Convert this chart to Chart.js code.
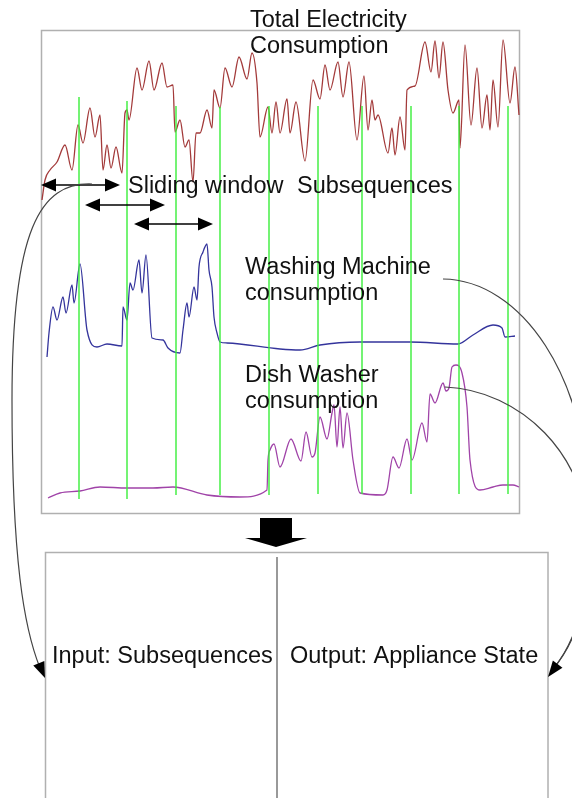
<!DOCTYPE html>
<html lang="en">
<head>
    <meta charset="UTF-8">
    <title>Sliding window subsequences</title>
    <script src="https://cdn.jsdelivr.net/npm/chart.js"></script>
    <style>
        body { margin: 0; background: #fff; }
        #wrap { width: 572px; height: 798px; }
    </style>
</head>
<body>
    <div id="wrap"><canvas id="diagram" width="572" height="798"></canvas></div>

    <script>
        // Traced curves (x = time position, y = drawing height, page units)
        const totalPts = [[42,200],[45,180],[50,170],[57,162],[65,145],[72,170],[78,125],[83,143],[90,108],[95,137],[100,115],[103,170],[107,145],[111,168],[116,147],[122,173],[125,113],[127,110],[129,120],[137,68],[142,90],[149,61],[154,90],[162,63],[167,87],[173,85],[175,132],[180,120],[185,147],[189,140],[193,182],[196,133],[200,133],[207,110],[212,128],[214,90],[220,108],[225,68],[232,87],[239,57],[247,79],[252,53],[257,83],[260,137],[268,107],[272,133],[276,102],[280,133],[287,99],[290,133],[296,102],[305,161],[313,80],[320,99],[325,65],[330,90],[338,62],[343,97],[349,62],[357,140],[364,76],[368,130],[372,100],[375,120],[378,115],[388,153],[392,128],[395,155],[400,117],[405,150],[407,90],[415,86],[425,42],[431,72],[435,41],[439,78],[443,42],[448,90],[453,113],[459,100],[460,148],[465,45],[471,125],[477,68],[482,128],[487,95],[490,130],[493,80],[498,127],[503,40],[510,103],[515,67],[519,115]];
        const washerPts = [[47,357],[49,333],[53,307],[57,320],[63,297],[66,313],[72,285],[74,303],[80,264],[87,330],[97,347],[107,344],[122,346],[123,307],[127,320],[130,283],[133,290],[139,260],[142,293],[146,255],[152,338],[163,340],[168,348],[180,353],[183,330],[187,303],[189,317],[194,287],[197,300],[199,267],[203,252],[207,244],[209,270],[212,287],[214,317],[217,333],[220,342],[227,343],[280,349],[300,350],[320,345],[360,342],[410,342],[458,344],[473,335],[493,325],[502,328],[505,337],[515,336]];
        const dishPts = [[48,498],[60,493],[80,491],[100,487],[127,488],[153,488],[173,487],[207,495],[240,497],[267,490],[268,460],[270,450],[274,444],[280,467],[291,439],[301,461],[306,432],[312,457],[315,453],[320,417],[327,439],[332,413],[334,405],[337,447],[340,407],[343,448],[347,413],[353,460],[360,493],[383,495],[387,490],[393,457],[399,468],[407,439],[412,460],[422,423],[427,442],[430,394],[435,403],[443,383],[446,391],[449,388],[452,367],[456,365],[462,373],[467,407],[470,460],[480,490],[493,487],[503,485],[513,485],[519,487]];

        // Window boundaries
        const windowX = [79, 127, 176, 220, 269, 318, 362, 411, 459, 508];
        const windowTop = [97, 101, 106, 107, 106, 106, 106, 106, 106, 106];
        const windowBottom = [499, 499, 495, 495, 495, 494, 494, 494, 494, 494];

        const FONT = '23.5px "Liberation Sans", Arial, sans-serif';

        function toXY(pts) {
            return pts.map(p => ({ x: p[0], y: p[1] }));
        }

        function curve(label, pts, color) {
            return {
                label: label,
                data: toXY(pts),
                showLine: true,
                borderColor: color,
                borderWidth: 1.3,
                pointRadius: 0,
                cubicInterpolationMode: 'monotone'
            };
        }

        const windowSets = windowX.map((x, i) => ({
            label: 'window ' + i,
            data: [{ x: x, y: windowTop[i] }, { x: x, y: windowBottom[i] }],
            showLine: true,
            borderColor: '#3aee3a',
            borderWidth: 1.4,
            pointRadius: 0
        }));

        // Helper: filled arrow head at (x, y) pointing along angle a
        function head(ctx, x, y, a, len, half) {
            ctx.beginPath();
            ctx.moveTo(x, y);
            ctx.lineTo(x - len * Math.cos(a) + half * Math.sin(a), y - len * Math.sin(a) - half * Math.cos(a));
            ctx.lineTo(x - len * Math.cos(a) - half * Math.sin(a), y - len * Math.sin(a) + half * Math.cos(a));
            ctx.closePath();
            ctx.fill();
        }

        const framePlugin = {
            id: 'frames',
            beforeDatasetsDraw(chart) {
                const ctx = chart.ctx;
                const X = v => chart.scales.x.getPixelForValue(v);
                const Y = v => chart.scales.y.getPixelForValue(v);
                ctx.save();
                ctx.strokeStyle = '#b0b0b0';
                ctx.lineWidth = 1.5;
                ctx.strokeRect(X(41.5), Y(30.5), X(519.5) - X(41.5), Y(513.5) - Y(30.5));
                ctx.strokeRect(X(45.5), Y(552.5), X(548) - X(45.5), Y(830) - Y(552.5));
                ctx.strokeStyle = '#555';
                ctx.lineWidth = 1.2;
                ctx.beginPath();
                ctx.moveTo(X(277), Y(557));
                ctx.lineTo(X(277), Y(830));
                ctx.stroke();
                ctx.restore();
            },
            afterDatasetsDraw(chart) {
                const ctx = chart.ctx;
                const X = v => chart.scales.x.getPixelForValue(v);
                const Y = v => chart.scales.y.getPixelForValue(v);
                ctx.save();

                // double arrows for the sliding window
                ctx.strokeStyle = '#000';
                ctx.fillStyle = '#000';
                ctx.lineWidth = 1.3;
                [[41, 120, 185], [85, 165, 205], [134, 213, 224]].forEach(a => {
                    ctx.beginPath();
                    ctx.moveTo(X(a[0] + 8), Y(a[2]));
                    ctx.lineTo(X(a[1] - 8), Y(a[2]));
                    ctx.stroke();
                    head(ctx, X(a[0]), Y(a[2]), Math.PI, 15, 6.5);
                    head(ctx, X(a[1]), Y(a[2]), 0, 15, 6.5);
                });

                // block arrow between the panels
                ctx.beginPath();
                ctx.moveTo(X(260), Y(518));
                ctx.lineTo(X(292), Y(518));
                ctx.lineTo(X(292), Y(538));
                ctx.lineTo(X(307), Y(538));
                ctx.lineTo(X(276), Y(547));
                ctx.lineTo(X(245), Y(538));
                ctx.lineTo(X(260), Y(538));
                ctx.closePath();
                ctx.fill();

                // connector curves
                ctx.strokeStyle = '#444';
                ctx.fillStyle = '#000';
                ctx.lineWidth = 1.2;
                ctx.beginPath();
                ctx.moveTo(X(92), Y(184));
                ctx.bezierCurveTo(X(40), Y(182), X(12), Y(230), X(12), Y(400));
                ctx.bezierCurveTo(X(12), Y(560), X(24), Y(628), X(40), Y(668));
                ctx.stroke();
                head(ctx, X(45), Y(678), Math.atan2(678 - 628, 45 - 24), 16, 6);

                ctx.beginPath();
                ctx.moveTo(X(443), Y(279));
                ctx.bezierCurveTo(X(520), Y(280), X(590), Y(375), X(590), Y(520));
                ctx.bezierCurveTo(X(590), Y(600), X(576), Y(640), X(554), Y(668));
                ctx.stroke();
                ctx.beginPath();
                ctx.moveTo(X(445), Y(387));
                ctx.bezierCurveTo(X(520), Y(390), X(588), Y(455), X(588), Y(540));
                ctx.bezierCurveTo(X(588), Y(610), X(574), Y(645), X(552), Y(670));
                ctx.stroke();
                head(ctx, X(548), Y(677), Math.atan2(677 - 640, 548 - 576), 16, 6);

                // labels
                ctx.fillStyle = '#111';
                ctx.font = FONT;
                ctx.textBaseline = 'alphabetic';
                [
                    ['Total Electricity', 250, 27],
                    ['Consumption', 250, 53],
                    ['Sliding window', 128, 193],
                    ['Subsequences', 297, 193],
                    ['Washing Machine', 245, 274],
                    ['consumption', 245, 300],
                    ['Dish Washer', 245, 382],
                    ['consumption', 245, 408],
                    ['Input: Subsequences', 52, 663],
                    ['Output: Appliance State', 290, 663]
                ].forEach(t => ctx.fillText(t[0], X(t[1]), Y(t[2])));
                ctx.restore();
            }
        };

        new Chart(document.getElementById('diagram'), {
            type: 'scatter',
            data: {
                datasets: [
                    ...windowSets,
                    curve('Total Electricity Consumption', totalPts, '#a33a3a'),
                    curve('Washing Machine consumption', washerPts, '#34349c'),
                    curve('Dish Washer consumption', dishPts, '#a043a8')
                ]
            },
            options: {
                responsive: false,
                animation: false,
                layout: { padding: 0 },
                plugins: { legend: { display: false }, tooltip: { enabled: false } },
                scales: {
                    x: { type: 'linear', min: 0, max: 572, display: false },
                    y: { type: 'linear', min: 0, max: 798, reverse: true, display: false }
                }
            },
            plugins: [framePlugin]
        });
    </script>
</body>
</html>
